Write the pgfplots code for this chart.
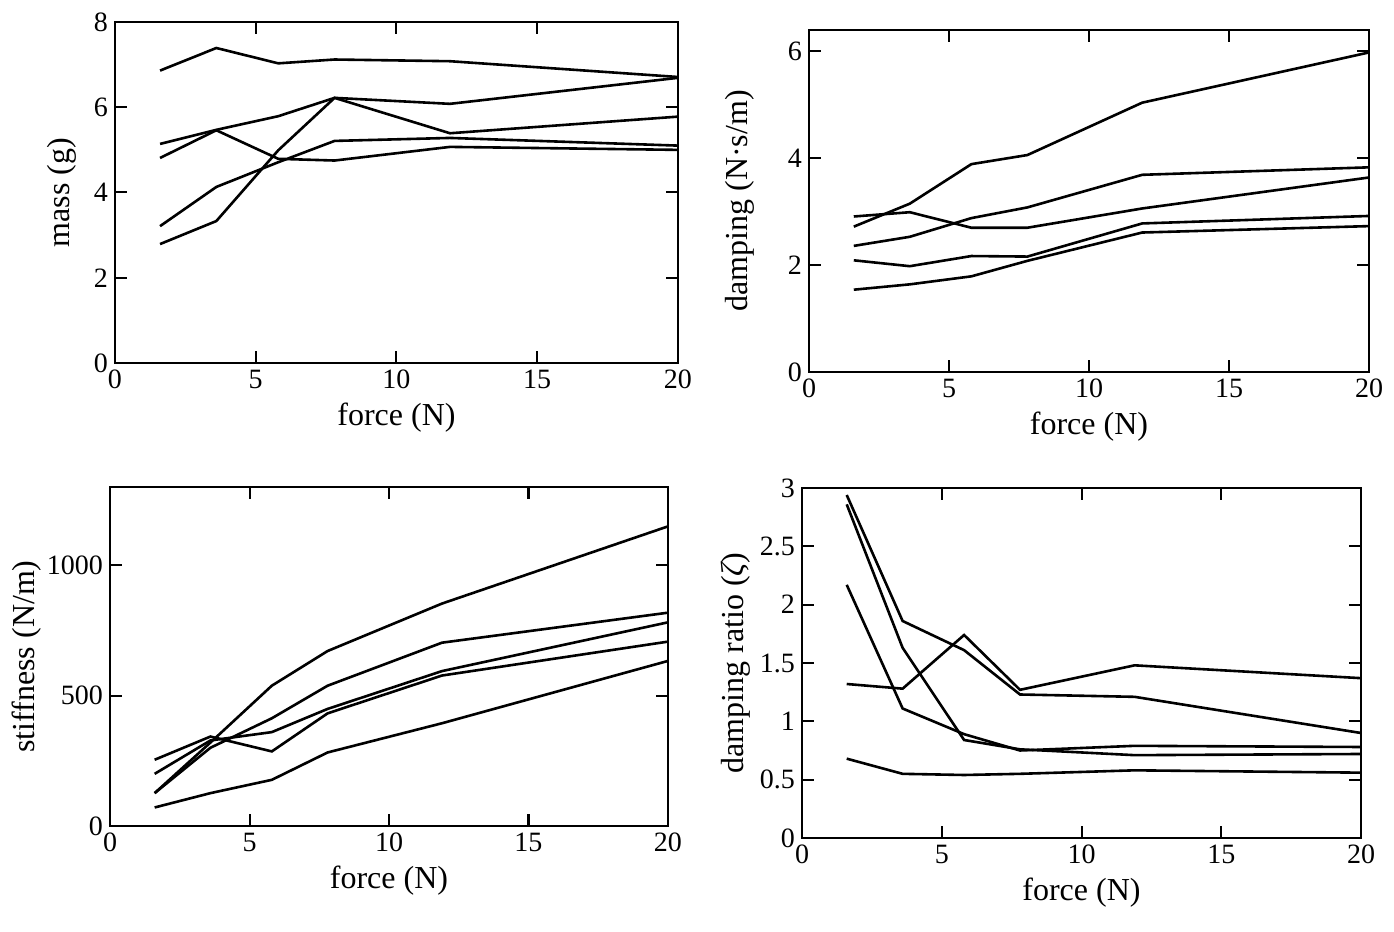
\documentclass[border=0pt]{standalone}
\usepackage{fontspec}
\setmainfont{Liberation Serif}
\usepackage{pgfplots}
\usepackage{pgfplotstable}
\pgfplotsset{compat=1.18}

% x = force (N); five specimens per panel
\pgfplotstableread{
x a b c d e
1.6 6.86 5.14 4.81 3.21 2.79
3.6 7.39 5.47 5.46 4.13 3.33
5.8 7.03 5.79 4.79 4.71 4.99
7.8 7.12 6.22 4.75 5.21 6.22
11.9 7.08 6.08 5.07 5.28 5.39
20 6.71 6.69 5.00 5.10 5.78
}\massdata
\pgfplotstableread{
x a b c d e
1.6 2.72 2.91 2.36 2.09 1.54
3.6 3.15 2.99 2.53 1.98 1.64
5.8 3.89 2.70 2.88 2.17 1.79
7.8 4.06 2.70 3.08 2.16 2.08
11.9 5.04 3.06 3.69 2.78 2.61
20 5.98 3.64 3.83 2.92 2.73
}\dampdata
\pgfplotstableread{
x a b c d e
1.6 126 126 200 254 71
3.6 320 300 328 343 126
5.8 538 413 360 286 177
7.8 671 538 449 432 282
11.9 853 703 594 577 394
20 1149 818 781 707 633
}\stiffdata
\pgfplotstableread{
x a b c d e
1.6 2.94 2.86 2.17 1.32 0.68
3.6 1.86 1.63 1.11 1.28 0.55
5.8 1.61 0.84 0.89 1.74 0.54
7.8 1.23 0.76 0.75 1.27 0.55
11.9 1.21 0.71 0.79 1.48 0.58
20 0.90 0.72 0.78 1.37 0.56
}\ratiodata

\tikzset{ln/.style={black, line width=1.3pt, mark=none}}
\pgfplotsset{
  panel/.style={
    scale only axis, anchor=south west,
    xmin=0, xmax=20, xtick={0,5,10,15,20},
    axis line style={line width=1pt},
    major tick length=6pt, tick style={line width=1pt, black},
    tick label style={font=\fontsize{14}{16}\selectfont},
    label style={font=\fontsize{16}{18}\selectfont},
    /pgf/number format/assume math mode=true,
    /pgf/number format/1000 sep={},
    xlabel={force (N)},
  }
}

\begin{document}
\begin{tikzpicture}
\path[use as bounding box] (0,0) rectangle (697pt,466pt);

\begin{axis}[panel, at={(57.5pt,284.5pt)}, width=281.5pt, height=170.5pt,
  ymin=0, ymax=8, ytick={0,2,4,6,8}, ylabel={mass (g)}, ylabel shift=2pt]
\addplot[ln] table[x=x, y=a] {\massdata};
\addplot[ln] table[x=x, y=b] {\massdata};
\addplot[ln] table[x=x, y=c] {\massdata};
\addplot[ln] table[x=x, y=d] {\massdata};
\addplot[ln] table[x=x, y=e] {\massdata};
\end{axis}

\begin{axis}[panel, at={(404.5pt,280pt)}, width=280pt, height=171pt,
  ymin=0, ymax=6.4, ytick={0,2,4,6}, ylabel={damping (N·s/m)},
  ylabel shift=10pt]
\addplot[ln] table[x=x, y=a] {\dampdata};
\addplot[ln] table[x=x, y=b] {\dampdata};
\addplot[ln] table[x=x, y=c] {\dampdata};
\addplot[ln] table[x=x, y=d] {\dampdata};
\addplot[ln] table[x=x, y=e] {\dampdata};
\end{axis}

\begin{axis}[panel, at={(55pt,53pt)}, width=279pt, height=169.5pt,
  ymin=0, ymax=1300, ytick={0,500,1000}, ylabel={stiffness (N/m)},
  scaled y ticks=false, ylabel shift=-4pt]
\addplot[ln] table[x=x, y=a] {\stiffdata};
\addplot[ln] table[x=x, y=b] {\stiffdata};
\addplot[ln] table[x=x, y=c] {\stiffdata};
\addplot[ln] table[x=x, y=d] {\stiffdata};
\addplot[ln] table[x=x, y=e] {\stiffdata};
\end{axis}

\begin{axis}[panel, at={(401pt,47pt)}, width=279.5pt, height=175pt,
  ymin=0, ymax=3, ytick={0,0.5,1,1.5,2,2.5,3},
  yticklabels={0,0.5,1,1.5,2,2.5,3},
  ylabel={damping ratio ({\itshape ζ})}, ylabel shift=-2pt]
\addplot[ln] table[x=x, y=a] {\ratiodata};
\addplot[ln] table[x=x, y=b] {\ratiodata};
\addplot[ln] table[x=x, y=c] {\ratiodata};
\addplot[ln] table[x=x, y=d] {\ratiodata};
\addplot[ln] table[x=x, y=e] {\ratiodata};
\end{axis}
\end{tikzpicture}
\end{document}
